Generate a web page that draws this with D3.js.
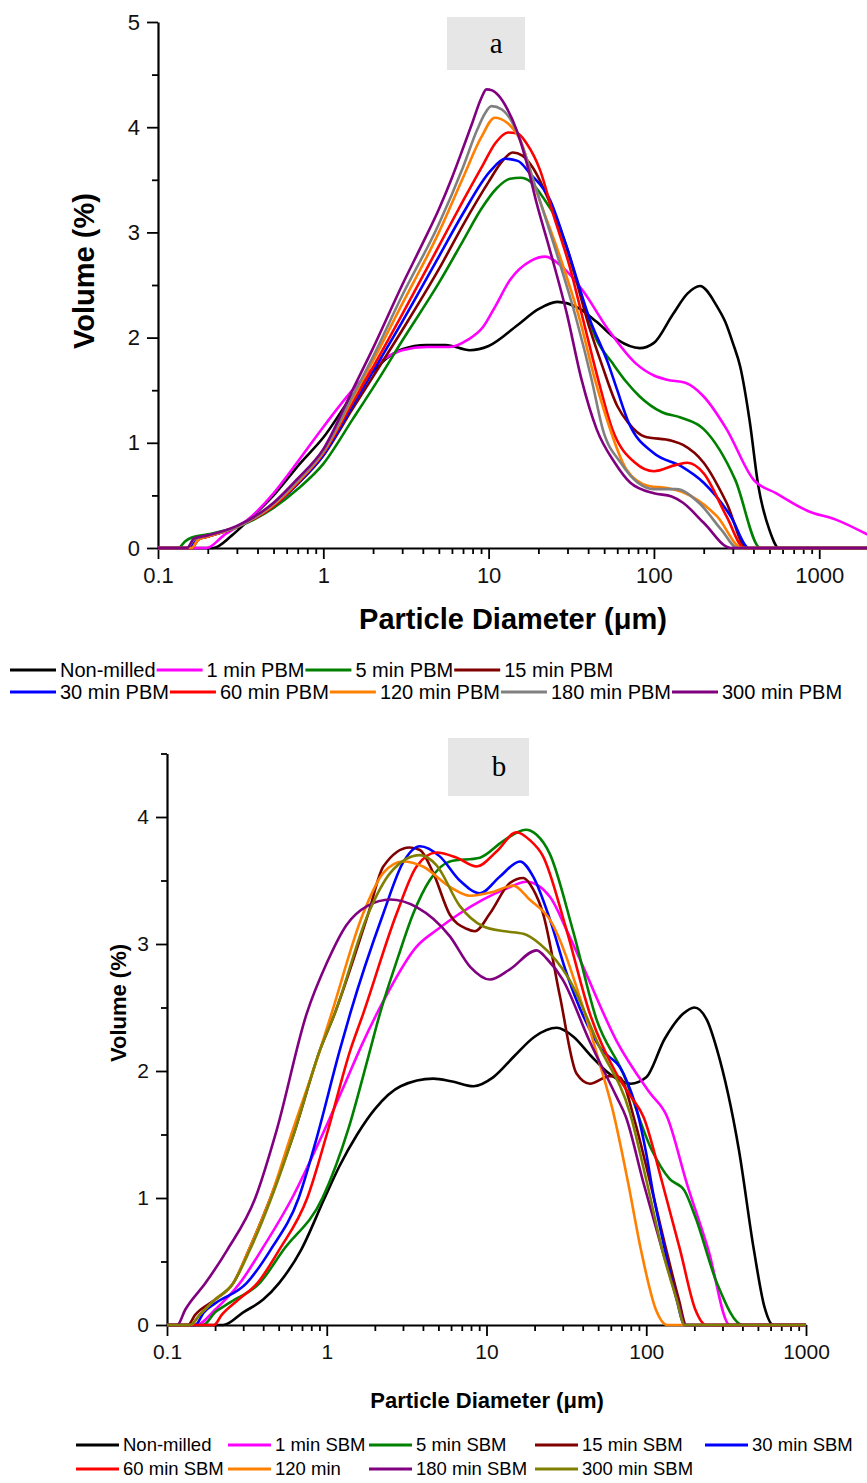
<!DOCTYPE html>
<html>
<head>
<meta charset="utf-8">
<script src="https://cdn.jsdelivr.net/npm/d3@7"></script>
<style>
  body { margin: 0; background: #fff; }
  svg { display: block; font-family: Arial, "Liberation Sans", sans-serif; }
</style>
</head>
<body>
<script>
// ---------- data ----------
// chart a : planetary ball milling (PBM)
var namesA = ["Non-milled", "1 min PBM", "5 min PBM", "15 min PBM", "30 min PBM",
              "60 min PBM", "120 min PBM", "180 min PBM", "300 min PBM"];
var colorsA = ["#000000", "#ff00ff", "#008000", "#800000", "#0000ff",
               "#ff0000", "#ff8000", "#808080", "#800080"];

var nonMilledA = [[0.1,0],[0.215,0],[0.28,0.12],[0.345,0.25],[0.5,0.5],[0.72,0.8],[1,1.05],[1.5,1.45],[2,1.68],[2.5,1.82],[3,1.89],[4.2,1.93],[5.5,1.93],[7.7,1.88],[10,1.92],[15,2.12],[20,2.27],[26,2.34],[35,2.28],[45,2.15],[60,1.98],[82,1.9],[100,1.95],[130,2.22],[160,2.42],[190,2.49],[240,2.3],[270,2.15],[300,1.95],[333,1.72],[380,1.2],[427,0.6],[500,0.17],[570,0],[2000,0]];
var pbm1 = [[0.1,0],[0.197,0],[0.25,0.12],[0.35,0.27],[0.5,0.52],[0.7,0.82],[1,1.15],[1.5,1.5],[2.3,1.79],[3,1.88],[4.2,1.91],[5.8,1.91],[7.5,1.98],[9.25,2.1],[11,2.3],[13.5,2.55],[18,2.73],[22,2.77],[28,2.67],[37,2.45],[52.7,2.08],[77,1.76],[100,1.64],[120,1.6],[155,1.57],[200,1.44],[275,1.13],[400,0.65],[550,0.52],[860,0.35],[1260,0.27],[2000,0.12]];
var pbm5 = [[0.1,0],[0.133,0],[0.145,0.06],[0.16,0.1],[0.2,0.13],[0.3,0.2],[0.5,0.38],[0.7,0.56],[1,0.8],[1.5,1.22],[2.15,1.6],[3,1.97],[5,2.52],[7,2.92],[9,3.22],[11.2,3.42],[13.5,3.51],[15.6,3.52],[18,3.48],[22,3.3],[25.8,3.12],[34,2.55],[45,1.98],[56,1.76],[68,1.58],[82,1.44],[112,1.29],[145,1.24],[200,1.13],[310,0.65],[441,0],[2000,0]];
var pbm15 = [[0.1,0],[0.16,0],[0.175,0.08],[0.2,0.11],[0.3,0.2],[0.5,0.4],[0.7,0.61],[1,0.88],[1.5,1.32],[2,1.63],[3,2.07],[5,2.65],[7,3.07],[10,3.48],[12,3.67],[14,3.76],[16,3.73],[18.6,3.61],[23.5,3.28],[29.7,2.86],[41,2.08],[48,1.76],[60,1.35],[70,1.19],[87.6,1.06],[128,1.02],[150,0.98],[200,0.81],[275,0.43],[364,0],[2000,0]];
var pbm30 = [[0.1,0],[0.155,0],[0.17,0.08],[0.2,0.11],[0.3,0.2],[0.5,0.4],[0.7,0.61],[1,0.88],[1.5,1.35],[2,1.68],[3,2.15],[5,2.77],[7,3.18],[10.2,3.58],[12.6,3.7],[15,3.68],[17.8,3.56],[23.5,3.31],[29.7,2.86],[41,2.17],[52.7,1.76],[60,1.5],[70,1.2],[100,0.9],[145,0.78],[200,0.62],[292,0.3],[376,0],[2000,0]];
var pbm60 = [[0.1,0],[0.16,0],[0.175,0.08],[0.2,0.11],[0.3,0.2],[0.5,0.4],[0.7,0.62],[1,0.9],[1.5,1.38],[2,1.72],[3,2.22],[5,2.87],[7,3.3],[9.3,3.65],[11,3.85],[13.1,3.95],[15,3.94],[16.9,3.85],[20.5,3.59],[24.5,3.18],[31,2.67],[37.3,2.17],[46,1.6],[56,1.13],[77,0.81],[100,0.73],[136,0.79],[160,0.81],[200,0.71],[275,0.3],[353,0],[2000,0]];
var pbm120 = [[0.1,0],[0.16,0],[0.175,0.08],[0.2,0.11],[0.3,0.2],[0.5,0.41],[0.7,0.63],[1,0.91],[1.5,1.42],[2,1.78],[3,2.32],[5,3.0],[7,3.52],[9,3.9],[10.9,4.09],[13,4.04],[15.5,3.88],[19.4,3.4],[27,2.77],[35.6,2.17],[44,1.6],[52,1.22],[68,0.75],[93,0.59],[120,0.57],[155,0.52],[241,0.3],[342,0],[2000,0]];
var pbm180 = [[0.1,0],[0.15,0],[0.165,0.08],[0.2,0.12],[0.3,0.2],[0.5,0.42],[0.7,0.64],[1,0.92],[1.5,1.44],[2,1.82],[3,2.4],[5,3.08],[7,3.62],[8.5,3.97],[9.5,4.13],[10.4,4.2],[12,4.17],[13.5,4.08],[15.5,3.88],[18.6,3.5],[25.8,2.8],[34,2.17],[42,1.6],[49,1.13],[63,0.81],[80,0.62],[100,0.56],[136,0.56],[187,0.43],[257,0.17],[321,0],[2000,0]];
var pbm300 = [[0.1,0],[0.15,0],[0.165,0.09],[0.2,0.12],[0.3,0.21],[0.5,0.43],[0.7,0.66],[1,0.94],[1.5,1.5],[2,1.9],[3,2.5],[4,2.9],[5,3.22],[6,3.52],[7,3.8],[8,4.05],[9,4.27],[9.7,4.36],[10.5,4.35],[11.5,4.3],[12.9,4.18],[14.8,3.97],[17,3.66],[19.5,3.28],[23.5,2.83],[29.7,2.23],[36.5,1.6],[45,1.13],[58,0.81],[72,0.62],[100,0.52],[128,0.49],[150,0.43],[200,0.24],[292,0],[2000,0]];

// chart b : shaker ball milling (SBM)
var namesB = ["Non-milled", "1 min SBM", "5 min SBM", "15 min SBM", "30 min SBM",
              "60 min SBM", "120 min", "180 min SBM", "300 min SBM"];
var colorsB = ["#000000", "#ff00ff", "#008000", "#800000", "#0000ff",
               "#ff0000", "#ff8000", "#800080", "#808000"];

var nonMilledB = [[0.1,0],[0.224,0],[0.3,0.1],[0.4,0.2],[0.503,0.33],[0.69,0.59],[0.97,1.0],[1.2,1.25],[1.55,1.5],[2,1.7],[2.9,1.88],[4.64,1.94],[6,1.92],[8.3,1.88],[11,1.95],[15,2.12],[20,2.27],[27.5,2.34],[35,2.27],[45,2.12],[60,1.97],[80,1.9],[100,1.95],[130,2.25],[170,2.45],[200,2.5],[240,2.4],[277,2.17],[380,1.38],[472,0.59],[550,0.14],[623,0],[1000,0]];
var sbm1 = [[0.1,0],[0.153,0],[0.2,0.12],[0.286,0.33],[0.39,0.59],[0.607,1.0],[0.94,1.5],[1.3,1.9],[1.65,2.2],[2.26,2.55],[3.65,2.98],[5,3.12],[6.8,3.24],[9.5,3.35],[13,3.43],[17.8,3.49],[25,3.37],[32,3.1],[40.3,2.82],[65,2.24],[105,1.83],[135,1.64],[179,1.12],[245,0.59],[333,0],[1000,0]];
var sbm5 = [[0.1,0],[0.168,0],[0.2,0.1],[0.25,0.18],[0.38,0.33],[0.535,0.59],[0.94,1.0],[1.37,1.55],[1.81,2.1],[2.15,2.45],[2.8,2.9],[3.48,3.24],[4.4,3.5],[5.9,3.65],[9.1,3.68],[12.7,3.81],[17.6,3.9],[20.6,3.86],[24.9,3.71],[34.7,3.11],[49,2.4],[71.7,1.98],[108,1.38],[140,1.15],[173,1.06],[203,0.85],[277,0.33],[403,0],[1000,0]];
var sbm15 = [[0.1,0],[0.135,0],[0.15,0.08],[0.2,0.2],[0.26,0.33],[0.325,0.59],[0.444,1.0],[0.62,1.5],[0.91,2.17],[1.12,2.45],[1.82,3.24],[2.26,3.61],[3.3,3.76],[3.83,3.74],[4.64,3.56],[5.9,3.23],[7.5,3.12],[8.46,3.1],[10.5,3.24],[14,3.48],[17,3.52],[19.6,3.43],[22.6,3.24],[28.8,2.59],[36.6,1.98],[44.4,1.9],[59,1.96],[68,1.95],[85,1.6],[100,1.25],[130,0.65],[160,0.2],[178,0],[1000,0]];
var sbm30 = [[0.1,0],[0.15,0],[0.17,0.1],[0.2,0.17],[0.315,0.33],[0.444,0.59],[0.667,1.0],[0.855,1.45],[1.21,2.17],[1.4,2.45],[2.26,3.24],[3,3.64],[3.83,3.77],[5.1,3.69],[6.8,3.5],[9.1,3.4],[12.1,3.53],[16.2,3.65],[19.6,3.53],[25,3.19],[31.7,2.77],[51,2.19],[72,1.98],[87,1.7],[100,1.35],[110,1.05],[131,0.59],[155,0.2],[174,0],[1000,0]];
var sbm60 = [[0.1,0],[0.197,0],[0.22,0.08],[0.28,0.2],[0.368,0.33],[0.503,0.59],[0.755,1.0],[1.0,1.5],[1.41,2.17],[1.69,2.45],[2.74,3.24],[3.65,3.61],[4.87,3.72],[6.5,3.68],[8.67,3.61],[11.6,3.73],[15.4,3.88],[18.6,3.82],[22.6,3.69],[31.7,3.11],[44.4,2.45],[65,1.98],[80,1.8],[96,1.64],[126,1.12],[163,0.59],[203,0.12],[237,0],[1000,0]];
var sbm120 = [[0.1,0],[0.14,0],[0.16,0.08],[0.2,0.2],[0.26,0.33],[0.325,0.59],[0.444,1.0],[0.6,1.5],[0.91,2.17],[1.07,2.45],[1.69,3.24],[2.26,3.56],[3,3.65],[4,3.61],[5.9,3.45],[7.9,3.38],[11,3.41],[14.7,3.46],[18.6,3.35],[25,3.19],[40,2.51],[50,2.1],[62,1.68],[77,1.12],[92.7,0.59],[115,0.12],[135,0],[1000,0]];
var sbm180 = [[0.1,0],[0.116,0],[0.13,0.12],[0.174,0.33],[0.238,0.59],[0.357,1.0],[0.486,1.535],[0.748,2.45],[1,2.85],[1.33,3.15],[1.8,3.3],[2.5,3.35],[3.65,3.29],[5.9,3.06],[7.9,2.82],[10.5,2.72],[14,2.8],[20.6,2.95],[24,2.88],[30,2.72],[44,2.24],[65,1.8],[74.5,1.64],[96,1.12],[126,0.59],[163,0.12],[174,0],[1000,0]];
var sbm300 = [[0.1,0],[0.14,0],[0.16,0.08],[0.2,0.2],[0.26,0.33],[0.33,0.59],[0.45,1.0],[0.62,1.5],[0.91,2.17],[1.12,2.45],[1.82,3.24],[2.5,3.56],[3.83,3.7],[4.87,3.62],[6.8,3.3],[9.5,3.14],[13,3.1],[17,3.08],[21.6,3.0],[33,2.72],[51,2.19],[79,1.67],[101,1.12],[126,0.59],[155,0.2],[174,0],[1000,0]];

var seriesA = [nonMilledA, pbm1, pbm5, pbm15, pbm30, pbm60, pbm120, pbm180, pbm300];
var seriesB = [nonMilledB, sbm1, sbm5, sbm15, sbm30, sbm60, sbm120, sbm180, sbm300];

var xTicksA = [0.1, 1, 10, 100, 1000];
var xTicksB = [0.1, 1, 10, 100, 1000];
var yTicksA = [0, 1, 2, 3, 4, 5];
var yTicksB = [0, 1, 2, 3, 4];

// ---------- drawing ----------
var svg = d3.select("body").append("svg")
    .attr("width", 867)
    .attr("height", 1483);

function fmt(d) { return d < 1 ? String(d) : d3.format("d")(d); }

function logMinors(majors, max) {
    var out = [];
    majors.forEach(function(m) {
        for (var k = 2; k <= 9; k++) if (m * k <= max) out.push(m * k);
    });
    return out;
}

function drawChart(c) {
    var x = d3.scaleLog().domain(c.xDomain).range(c.xRange);
    var y = d3.scaleLinear().domain(c.yDomain).range(c.yRange);
    var g = svg.append("g");

    // panel letter box
    g.append("rect")
        .attr("x", c.box[0]).attr("y", c.box[1])
        .attr("width", c.box[2]).attr("height", c.box[3])
        .style("fill", "#e6e6e6");
    g.append("text")
        .attr("x", c.box[0] + c.box[2] * 0.63)
        .attr("y", c.box[1] + c.box[3] * 0.5)
        .attr("dy", "0.32em")
        .style("text-anchor", "middle")
        .style("font-family", "'Liberation Serif', 'Times New Roman', serif")
        .style("font-size", "29px")
        .text(c.letter);

    // minor ticks
    g.append("g")
        .attr("transform", "translate(0," + c.yRange[0] + ")")
        .call(d3.axisBottom(x).tickValues(logMinors(c.xTicks, c.xDomain[1])).tickSize(6).tickFormat(""))
        .call(function(a) { a.select(".domain").remove(); });
    g.append("g")
        .attr("transform", "translate(" + c.xRange[0] + ",0)")
        .call(d3.axisLeft(y).tickValues(d3.range(0.5, c.yDomain[1] + 0.01, 1)).tickSize(6).tickFormat(""))
        .call(function(a) { a.select(".domain").remove(); });

    // major axes
    var xa = g.append("g")
        .attr("transform", "translate(0," + c.yRange[0] + ")")
        .call(d3.axisBottom(x).tickValues(c.xTicks).tickSize(11).tickSizeOuter(0).tickPadding(8).tickFormat(fmt));
    var ya = g.append("g")
        .attr("transform", "translate(" + c.xRange[0] + ",0)")
        .call(d3.axisLeft(y).tickValues(c.yTicks).tickSize(11).tickSizeOuter(0).tickPadding(7).tickFormat(d3.format("d")));
    g.selectAll(".domain").style("stroke", "#000").style("stroke-width", 2.2);
    g.selectAll(".tick line").style("stroke", "#000").style("stroke-width", 1.8);
    [xa, ya].forEach(function(a) {
        a.selectAll("text").style("font-size", c.tickFont + "px")
            .style("fill", "#111").style("font-family", "Arial, 'Liberation Sans', sans-serif");
    });

    // curves
    var line = d3.line()
        .x(function(d) { return x(d[0]); })
        .y(function(d) { return y(d[1]); })
        .curve(d3.curveMonotoneX);
    c.series.forEach(function(s, i) {
        g.append("path").datum(s)
            .attr("d", line)
            .style("fill", "none")
            .style("stroke", c.colors[i])
            .style("stroke-width", 2.6)
            .style("stroke-linejoin", "round");
    });

    // axis titles
    g.append("text")
        .attr("x", c.xTitleX)
        .attr("y", c.xTitleY)
        .attr("dy", "0.35em")
        .style("text-anchor", "middle")
        .style("font-weight", "bold")
        .style("font-size", c.titleFont + "px")
        .text("Particle Diameter (\u03bcm)");
    g.append("text")
        .attr("transform", "translate(" + c.yTitleX + "," + c.yTitleY + ") rotate(-90)")
        .attr("dy", "0.35em")
        .style("text-anchor", "middle")
        .style("font-weight", "bold")
        .style("font-size", c.titleFont + "px")
        .text("Volume (%)");
}

drawChart({
    series: seriesA, colors: colorsA, letter: "a",
    xDomain: [0.1, 2000], xRange: [158, 869],
    yDomain: [0, 5], yRange: [548, 22],
    xTicks: xTicksA, yTicks: yTicksA,
    box: [447, 17, 78, 53],
    tickFont: 22, titleFont: 29,
    xTitleX: 513, xTitleY: 619, yTitleX: 84, yTitleY: 271
});

drawChart({
    series: seriesB, colors: colorsB, letter: "b",
    xDomain: [0.1, 1000], xRange: [167, 806],
    yDomain: [0, 4.5], yRange: [1325, 753.5],
    xTicks: xTicksB, yTicks: yTicksB,
    box: [448, 738, 81, 58],
    tickFont: 21, titleFont: 22,
    xTitleX: 487, xTitleY: 1400, yTitleX: 118, yTitleY: 1003
});

// ---------- legends ----------
// legend a: flowing rows
function flowLegend(names, colors, rows, startX, fontSize, lineLen) {
    rows.forEach(function(r) {
        var xPos = startX;
        r.items.forEach(function(i) {
            svg.append("line")
                .attr("x1", xPos).attr("x2", xPos + lineLen)
                .attr("y1", r.y).attr("y2", r.y)
                .style("stroke", colors[i]).style("stroke-width", 3);
            var t = svg.append("text")
                .attr("x", xPos + lineLen + 4)
                .attr("y", r.y)
                .attr("dy", "0.35em")
                .style("font-size", fontSize + "px")
                .text(names[i]);
            xPos = xPos + lineLen + 4 + t.node().getComputedTextLength() + 1;
        });
    });
}
flowLegend(namesA, colorsA, [{y: 670, items: [0, 1, 2, 3]}, {y: 692, items: [4, 5, 6, 7, 8]}], 10, 20, 46);

// legend b: fixed columns
var colsB = [76, 228, 369, 535, 705];
var rowsB = [{y: 1445, items: [0, 1, 2, 3, 4]}, {y: 1469, items: [5, 6, 7, 8]}];
rowsB.forEach(function(r) {
    r.items.forEach(function(i, k) {
        svg.append("line")
            .attr("x1", colsB[k]).attr("x2", colsB[k] + 43)
            .attr("y1", r.y).attr("y2", r.y)
            .style("stroke", colorsB[i]).style("stroke-width", 3);
        svg.append("text")
            .attr("x", colsB[k] + 47)
            .attr("y", r.y)
            .attr("dy", "0.35em")
            .style("font-size", "18.5px")
            .text(namesB[i]);
    });
});
</script>
</body>
</html>
